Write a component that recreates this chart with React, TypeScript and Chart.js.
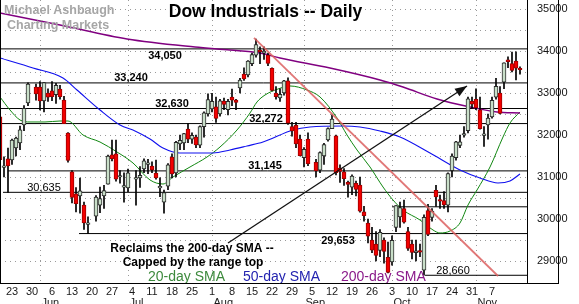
import React, { useEffect, useRef } from 'react';
import { Chart, registerables } from 'chart.js';
Chart.register(...registerables);

const FONT = '"Liberation Sans", Arial, Helvetica, sans-serif';

// trading-day index: 0 = Mon May 23 2022, weekdays only (holidays left empty)
const dayIndex = [-3,-2,-1,0,1,2,3,4,6,7,8,9,10,11,12,13,14,15,16,17,18,19,21,22,23,24,25,26,27,28,29,31,32,33,34,35,36,37,38,39,40,41,42,43,44,45,46,47,48,49,50,51,52,53,54,55,56,57,58,59,60,61,62,63,64,65,66,67,68,69,70,71,72,73,74,76,77,78,79,80,81,82,83,84,85,86,87,88,89,90,91,92,93,94,95,96,97,98,99,100,101,102,103,104,105,106,107,108,109,110,111,112,113,114,115,116,117,118,119,120,121,122,123,124,125,126,127];
const opens = [32430,31230,31430,31405,31690,31810,32240,32762,33143,33140,32810,33000,33050,32960,33095,32830,32048,31120,30600,30550,30330,29870,30070,30330,30550,30830,31530,31550,31000,30760,30740,30950,30980,31190,31300,31260,31095,30740,30400,30780,31476,31095,31790,31810,32140,31900,31950,31760,32200,32500,32620,32670,32500,32810,32600,32900,32830,33120,33450,33430,33700,33900,34000,33950,33900,33590,33000,32880,33000,33290,32200,32230,31900,31460,31900,31350,31160,31500,31880,32150,31980,31210,31120,30870,30760,30850,30810,30170,29900,29500,29400,29250,29500,29090,28980,29800,30050,30250,29700,29400,29200,29250,28780,30200,30040,30680,30450,30440,30330,31150,31460,31750,32000,32100,32800,32850,32600,31990,32240,32430,32900,33000,33260,33790,33700,33760,33560];
const highs = [32470,31480,31690,31900,31950,32215,32700,33240,33214,33270,33250,33100,33270,33230,33180,32920,32060,31150,30750,30976,30400,30050,30560,30760,30800,31520,31880,31880,31150,31100,31190,31150,31250,31430,31420,31360,31400,30980,30690,31320,31550,31850,32000,32040,32280,32050,32000,32220,32550,32980,32990,32900,32850,32880,32850,33095,32850,33350,33600,33770,33950,34281,34100,34100,33950,33600,33150,33100,33300,33360,32300,32300,32000,31700,32050,31420,31600,31800,32170,32480,32000,31290,31200,30900,31050,30900,31000,30300,30000,29800,29700,29750,29550,29450,29600,30320,30400,30450,29800,29500,29500,29400,30100,30350,30250,30800,30570,30650,31100,31550,31850,32000,32200,32900,32900,33100,32900,32200,32500,32900,33350,33150,33720,33860,33976,33980,33620];
const lows = [31380,31000,30635,31300,31500,31650,32100,32700,32830,32595,32550,32800,32820,32750,32850,32270,31350,30380,30170,30140,29750,29653,29950,30150,30250,30830,31380,30900,30850,30400,30650,30330,30750,31100,31080,31100,30950,30530,30140,30700,30980,31000,31650,31650,31820,31800,31700,31700,31950,32450,32550,32300,32450,32600,32480,32700,32600,33000,33300,33380,33650,33850,33700,33800,33650,33050,32850,32800,32950,32250,31970,31700,31500,31240,31270,31000,31100,31300,31850,32150,31050,30870,30800,30520,30580,30550,30160,29950,29430,29200,29000,29100,28950,28715,28900,29700,29800,29900,29250,29050,29000,29100,28660,29600,29950,30300,30250,30250,30170,31000,31400,31700,31950,32050,32650,32600,32140,31727,31900,32400,32850,32500,33100,33600,33500,33310,33450];
const closes = [31410,31253,31262,31880,31928,32120,32637,33213,32976,32813,33248,32900,32915,33180,32910,32272,31393,30516,30365,30668,29905,29888,30524,30483,30677,31500,31438,30946,31029,30775,31097,30967,31037,31385,31338,31170,30980,30773,30630,31290,31072,31827,31875,32036,31899,31990,31762,32198,32530,32845,32800,32397,32813,32726,32803,32832,32775,33310,33336,33761,33913,34152,33981,33999,33706,33063,32910,32969,33292,32283,32099,31790,31510,31656,31318,31145,31581,31774,32151,32381,31105,31135,30962,30822,31019,30706,30184,30077,29590,29260,29135,29684,29226,28726,29491,30317,30274,29927,29297,29203,29240,29211,30039,29635,30186,30524,30424,30334,31083,31500,31837,31839,32034,32861,32733,32653,32148,32001,32403,32827,33160,32514,33716,33748,33537,33593,33553];

// moving averages (day index, value)
const sma20X = [-3,-0.5,2,4.5,8.25,12,14,17.75,22,26.25,30.25,34.5,37.75,40.25,44.5,48.75,52,56.25,59.5,61.25,63.25,66.5,69.5,73.75,77,81.25,83.75,86.25,89.5,92.75,95.25,97.75,102,105.25,107,109.5,112,114,116.25,119.5,122.75,124.5,127];
const sma20Y = [32905,32595,32357,32310,32310,32333,32333,32000,31833,31595,31333,30929,30833,31000,31238,31476,31714,32119,32524,32786,32952,33095,33167,33071,32905,32405,32000,31643,31238,30762,30452,30214,29976,29738,29667,29714,29905,30333,30690,31238,31952,32286,32548];
const sma50X = [-3,5.25,12.75,16.25,22,27,30.75,34.5,37.75,42,50.25,54.5,58.75,62.75,70.25,74.5,82.75,87,92,97,104.5,112,117,121.5,124.5,127];
const sma50Y = [33833,33595,33357,33071,32595,32238,32095,31905,31690,31571,31571,31643,31738,31833,32119,32190,32214,32190,32095,31952,31571,31167,30976,30857,30905,31071];
const sma200X = [-3,12,28.75,45.75,54.5,62,67,79.5,92,97.75,106.25,114.5,121.25,127];
const sma200Y = [34905,34619,34286,34095,34024,33952,33833,33595,33310,33143,32857,32667,32548,32524];

// horizontal levels
const levelValues = [34050,33240,32630,32272,31145,30635,30290,29653,28660];
const levelStarts = [-3,-3,-3,-3,-1,-2.25,95,16.75,103.25];
const levelLabelAt = [38.25,29.75,40,63.5,63.25,8,null,81.5,110.25];
const levelLabelBelow = [true,false,false,false,false,false,false,true,false];
const levelLabelBold = [true,true,true,true,true,false,false,true,false];

const trendX = [60.5,121.5];
const trendY = [34310,28643];
const arrowX = [54,113.75];
const arrowY = [29428,33167];

const gridLevels = [29000,29500,30000,30500,31000,31500,32000,32500,33000,33500,34000,34500,35000];
const weekTicks = [0,5,10,15,20,25,30,35,40,45,50,55,60,65,70,75,80,85,90,95,100,105,110,115,120];
const dayLabels = ['23','30','6','13','20','27','4','11','18','25','1','8','15','22','29','5','12','19','26','3','10','17','24','31','7'];
const monthStarts = [7,29,50,73,95,116];
const monthLabels = ['Jun','Jul','Aug','Sep','Oct','Nov'];

const X_MIN = -3, X_MAX = 128.75, Y_MIN = 28476, Y_MAX = 35214;

export default function App() {
  const ref = useRef<HTMLCanvasElement>(null);
  useEffect(() => {
    const canvas = ref.current!;
    Chart.defaults.font.family = FONT;
    const up = dayIndex.map((_, k) => closes[k] >= opens[k]);
    const line = (xs: number[], ys: number[]) => xs.map((x, k) => ({ x, y: ys[k] }));

    const levelSets = levelValues.map((v, k) => ({
      type: 'line' as const,
      data: [{ x: levelStarts[k], y: v }, { x: X_MAX, y: v }],
      borderColor: '#000', borderWidth: 1, pointRadius: 0, order: 7,
    }));

    const decor = {
      id: 'decor',
      beforeDraw(chart: any) {
        const { ctx } = chart;
        ctx.save(); ctx.fillStyle = '#fff'; ctx.fillRect(0, 0, chart.width, chart.height); ctx.restore();
      },
      beforeDatasetsDraw(chart: any) {
        const { ctx, chartArea: a, scales: { x, y } } = chart;
        ctx.save();
        ctx.strokeStyle = '#9a9a9a'; ctx.lineWidth = 1; ctx.setLineDash([1, 4]);
        gridLevels.forEach(v => {
          const py = Math.round(y.getPixelForValue(v)) + 0.5;
          ctx.beginPath(); ctx.moveTo(a.left, py); ctx.lineTo(a.right, py); ctx.stroke();
        });
        monthStarts.forEach(d => {
          const px = Math.round(x.getPixelForValue(d)) + 0.5;
          ctx.beginPath(); ctx.moveTo(px, a.top); ctx.lineTo(px, a.bottom); ctx.stroke();
        });
        ctx.restore();
      },
      afterDatasetsDraw(chart: any) {
        const { ctx, chartArea: a, scales: { x, y } } = chart;
        ctx.save();
        const txt = (s: string, px: number, py: number, font: string, color: string, align: CanvasTextAlign = 'center') => {
          ctx.font = font; ctx.fillStyle = color; ctx.textAlign = align; ctx.textBaseline = 'alphabetic';
          ctx.fillText(s, px, py);
        };
        // arrow head
        const x1 = x.getPixelForValue(arrowX[0]), y1 = y.getPixelForValue(arrowY[0]);
        const x2 = x.getPixelForValue(arrowX[1]), y2 = y.getPixelForValue(arrowY[1]);
        const ang = Math.atan2(y2 - y1, x2 - x1);
        ctx.fillStyle = '#111';
        ctx.beginPath();
        ctx.moveTo(x2, y2);
        ctx.lineTo(x2 - 12 * Math.cos(ang) + 4.5 * Math.sin(ang), y2 - 12 * Math.sin(ang) - 4.5 * Math.cos(ang));
        ctx.lineTo(x2 - 12 * Math.cos(ang) - 4.5 * Math.sin(ang), y2 - 12 * Math.sin(ang) + 4.5 * Math.cos(ang));
        ctx.closePath(); ctx.fill();

        // level labels
        levelValues.forEach((v, k) => {
          const at = levelLabelAt[k];
          if (at === null) return;
          const py = y.getPixelForValue(v);
          const base = levelLabelBelow[k] ? py + 10.5 : py - 1.5;
          txt(v.toLocaleString('en-US'), x.getPixelForValue(at), base,
            (levelLabelBold[k] ? 'bold ' : '') + '11px ' + FONT, '#000');
        });

        // watermark and title
        txt('Michael Ashbaugh', 4, 14, 'bold 12.5px ' + FONT, '#a6a6a6', 'left');
        txt('Charting Markets', 7, 29, 'bold 12.5px ' + FONT, '#a6a6a6', 'left');
        txt('Dow Industrials -- Daily', 265.5, 17, 'bold 17.5px ' + FONT, '#000');

        // annotation
        txt('Reclaims the 200-day SMA --', 192, 252, 'bold 12px ' + FONT, '#000');
        txt('Capped by the range top', 193, 266, 'bold 12px ' + FONT, '#000');
        txt('20-day SMA', 148, 281, '14px ' + FONT, '#3d8a3d', 'left');
        txt('50-day SMA', 243, 281, '14px ' + FONT, '#2323b0', 'left');
        txt('200-day SMA', 341, 281, '14px ' + FONT, '#8a1a8a', 'left');

        // frame
        ctx.strokeStyle = '#000'; ctx.lineWidth = 1; ctx.setLineDash([]);
        ctx.beginPath();
        ctx.moveTo(a.left + 0.5, a.top); ctx.lineTo(a.left + 0.5, a.bottom);
        ctx.moveTo(a.left, Math.round(a.bottom) + 0.5); ctx.lineTo(559, Math.round(a.bottom) + 0.5);
        ctx.moveTo(Math.round(a.right) + 0.5, a.top); ctx.lineTo(Math.round(a.right) + 0.5, a.bottom);
        ctx.moveTo(558.5, a.top); ctx.lineTo(558.5, a.bottom);
        ctx.stroke();

        // x axis labels
        weekTicks.forEach((d, k) => {
          txt(dayLabels[k], x.getPixelForValue(d), 295, '11px ' + FONT, '#1a1a1a');
        });
        monthStarts.forEach((d, k) => {
          txt(monthLabels[k], x.getPixelForValue(d) + 1.5, 306, '11px ' + FONT, '#1a1a1a', 'left');
        });
        ctx.restore();
      },
    };

    const chart = new Chart(canvas, {
      type: 'bar',
      data: {
        datasets: [
          ...levelSets,
          { type: 'line', data: line(sma200X, sma200Y), borderColor: '#800080', borderWidth: 1.4, pointRadius: 0, cubicInterpolationMode: 'monotone', order: 6 },
          { type: 'line', data: line(sma50X, sma50Y), borderColor: '#1010ee', borderWidth: 1.1, pointRadius: 0, cubicInterpolationMode: 'monotone', order: 6 },
          { type: 'line', data: line(sma20X, sma20Y), borderColor: '#118811', borderWidth: 1, pointRadius: 0, cubicInterpolationMode: 'monotone', order: 6 },
          { type: 'bar', data: dayIndex.map((d, k) => ({ x: d, y: [lows[k], highs[k]] })), backgroundColor: '#000', barThickness: 1, grouped: false, order: 4 },
          { type: 'bar', data: dayIndex.map((d, k) => ({ x: d, y: [opens[k], closes[k]] })),
            backgroundColor: up.map(u => (u ? '#c9dfc9' : '#f20000')),
            borderColor: up.map(u => (u ? '#2a2a2a' : '#a00000')),
            borderWidth: 1, borderSkipped: false, barThickness: 4, minBarLength: 1.5, grouped: false, order: 3 },
          { type: 'line', data: line(trendX, trendY), borderColor: 'rgba(220,95,95,0.85)', borderWidth: 1.8, pointRadius: 0, order: 2 },
          { type: 'line', data: line(arrowX, arrowY), borderColor: '#111', borderWidth: 1.3, pointRadius: 0, order: 1 },
        ] as any,
      },
      options: {
        animation: false,
        responsive: false,
        devicePixelRatio: 1,
        events: [],
        layout: { padding: 0 },
        plugins: { legend: { display: false }, tooltip: { enabled: false } },
        scales: {
          x: {
            type: 'linear', min: X_MIN, max: X_MAX, offset: false,
            grid: { display: false }, border: { display: false },
            ticks: { display: false },
            afterFit: (s: any) => { s.height = 21; s.paddingLeft = 0; s.paddingRight = 0; },
          },
          y: {
            type: 'linear', position: 'right', min: Y_MIN, max: Y_MAX,
            grid: { display: false }, border: { display: false },
            afterBuildTicks: (s: any) => { s.ticks = gridLevels.map(v => ({ value: v })); },
            ticks: {
              callback: (v: any) => (Number(v) % 1000 === 0 ? String(v) : ''),
              font: { size: 11, family: FONT }, color: '#151515', padding: 2,
            },
            afterFit: (s: any) => { s.width = 52; s.paddingTop = 0; s.paddingBottom = 0; },
          },
        },
      } as any,
      plugins: [decor],
    });
    return () => chart.destroy();
  }, []);
  return (
    <div style={{ position: 'absolute', left: 0, top: 0, width: 579, height: 304, background: '#fff' }}>
      <canvas ref={ref} width={579} height={304} style={{ display: 'block', width: 579, height: 304 }} />
    </div>
  );
}
